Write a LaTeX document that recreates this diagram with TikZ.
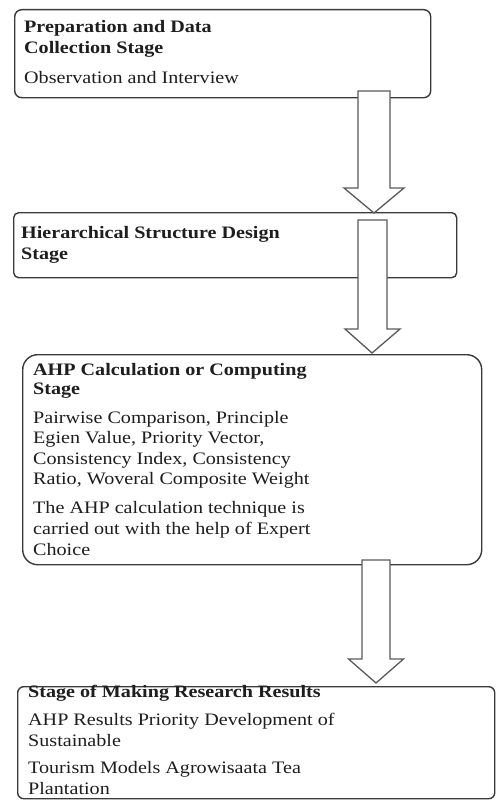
\documentclass[tikz,border=0pt]{standalone}
\usepackage{fontspec}
\setmainfont{Liberation Serif}[FakeStretch=1.15]
\usetikzlibrary{calc}
\definecolor{boxline}{HTML}{3A3A3A}
\definecolor{arrline}{HTML}{5A5A5A}
\definecolor{txtcol}{HTML}{1E1E1E}
\tikzset{
  stagebox/.style={draw=boxline, line width=1.4pt, fill=white, inner sep=0pt, anchor=north west},
  txt/.style={anchor=base west, inner sep=0pt, text=txtcol, font=\fontsize{17.5}{20}\selectfont},
  btxt/.style={txt, font=\fontsize{17.5}{20}\selectfont\bfseries},
  barrow/.style={draw=arrline, line width=1.3pt, fill=white, line join=miter}
}
\newcommand{\blockarrow}[5]{%
  \draw[barrow] let \p1=(#1), \p2=(#2) in
   (\x1-#4pt,\y1) -- (\x1+#4pt,\y1) -- (\x1+#4pt,\y2+#3pt) -- (\x1+#5pt,\y2+#3pt)
   -- (\x2,\y2) -- (\x1-#5pt,\y2+#3pt) -- (\x1-#4pt,\y2+#3pt) -- cycle;}
\begin{document}
\begin{tikzpicture}[x=1pt,y=-1pt]
\useasboundingbox (0,0) rectangle (495,800);

% boxes
\node[stagebox, rounded corners=7pt, minimum width=416pt, minimum height=88pt] (b1) at (14,9) {};
\node[stagebox, rounded corners=5pt, minimum width=443pt, minimum height=65pt] (b2) at (13,212) {};
\node[stagebox, rounded corners=15pt, minimum width=459pt, minimum height=210pt] (b3) at (22,354) {};
\node[stagebox, rounded corners=6pt, minimum width=477pt, minimum height=112pt] (b4) at (17,686) {};

% box 1 text
\node[btxt] (t1a) at (24,32.5) {Preparation and Data};
\node[btxt] (t1b) at (24,53) {Collection Stage};
\node[txt]  (t1c) at (24,83) {Observation and Interview};

% box 2 text
\node[btxt] (t2a) at (21,238) {Hierarchical Structure Design};
\node[btxt] (t2b) at (21,259) {Stage};

% box 3 text
\node[btxt] (t3a) at (33,375) {AHP Calculation or Computing};
\node[btxt] (t3b) at (33,394) {Stage};
\node[txt]  (t3c) at (33,423) {Pairwise Comparison, Principle};
\node[txt]  (t3d) at (33,443.5) {Egien Value, Priority Vector,};
\node[txt]  (t3e) at (33,464) {Consistency Index, Consistency};
\node[txt]  (t3f) at (33,484) {Ratio, Woveral Composite Weight};
\node[txt]  (t3g) at (33,513.5) {The AHP calculation technique is};
\node[txt]  (t3h) at (33,534) {carried out with the help of Expert};
\node[txt]  (t3i) at (33,555) {Choice};

% box 4 text
\node[btxt] (t4a) at (28,697) {Stage of Making Research Results};
\node[txt]  (t4b) at (28,725) {AHP Results Priority Development of};
\node[txt]  (t4c) at (28,746) {Sustainable};
\node[txt]  (t4d) at (28,773) {Tourism Models Agrowisaata Tea};
\node[txt]  (t4e) at (28,794) {Plantation};

% arrows (drawn over the boxes)
\coordinate (a1s) at (374,91);
\coordinate (a1e) at (374,213);
\coordinate (a2s) at (372.5,220);
\coordinate (a2e) at (372,353);
\coordinate (a3s) at (376,560);
\coordinate (a3e) at (376,683);
\blockarrow{a1s}{a1e}{25}{16}{30}
\blockarrow{a2s}{a2e}{24}{14.5}{27.5}
\blockarrow{a3s}{a3e}{24}{14}{27.5}
\end{tikzpicture}
\end{document}
